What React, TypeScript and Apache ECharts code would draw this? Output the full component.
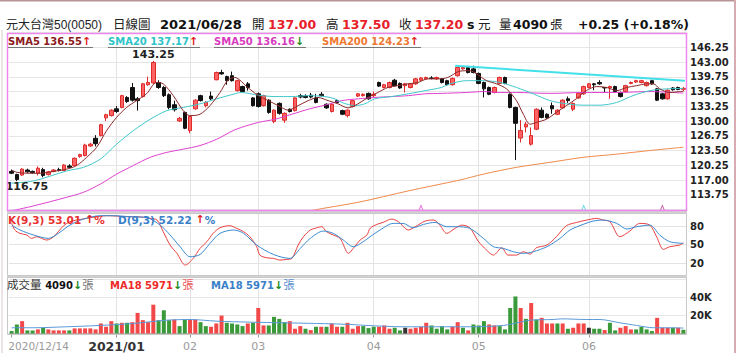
import React, { useEffect, useRef } from 'react';
import * as echarts from 'echarts';

// ---- trading calendar (x categories) ----
const DEC = [14, 15, 16, 17, 18, 21, 22, 23, 24, 25, 28, 29, 30, 31];
const JAN = [4, 5, 6, 7, 8, 11, 12, 13, 14, 15, 18, 19, 20, 21, 22, 25, 26, 27, 28, 29];
const FEB = [1, 2, 3, 4, 5, 17, 18, 19, 22, 23, 24, 25, 26];
const MAR = [2, 3, 4, 5, 8, 9, 10, 11, 12, 15, 16, 17, 18, 19, 22, 23, 24, 25, 26, 29, 30, 31];
const APR = [1, 6, 7, 8, 9, 12, 13, 14, 15, 16, 19, 20, 21, 22, 23, 26, 27, 28, 29, 30];
const MAY = [3, 4, 5, 6, 7, 10, 11, 12, 13, 14, 17, 18, 19, 20, 21, 24, 25, 26, 27, 28, 31];
const JUN = [1, 2, 3, 4, 7, 8, 9, 10, 11, 15, 16, 17, 18, 21, 22, 23, 24, 25, 28];

const tickIdx = [0, 20, 34, 47, 69, 89, 110];
const tickLabels = ['2020/12/14', '2021/01', '02', '03', '04', '05', '06'];

// ---- OHLC ----
const opens = [118.9,118.2,118.1,119.2,118.9,118.5,119.3,118.2,118.9,119.3,119.1,120.1,120.2,122.2,122.4,124.5,126.2,126.8,130.7,131.2,132.7,133.0,135.2,137.4,134.9,135.4,138.0,138.4,138.5,137.4,135.8,133.6,130.0,131.9,127.9,132.7,135.6,133.4,135.5,139.1,140.7,139.8,140.0,136.7,137.6,138.2,135.1,136.0,133.4,134.6,129.9,133.9,130.2,132.6,132.3,135.6,135.5,135.7,135.1,135.9,133.7,132.1,134.5,132.3,131.2,133.2,135.5,135.6,136.1,135.6,138.5,137.4,137.4,139.0,138.3,137.8,137.4,138.2,139.0,139.3,139.5,139.3,139.3,138.9,138.0,140.0,141.5,141.8,141.5,140.5,138.5,137.4,136.3,138.3,139.6,135.9,133.0,126.25,128.7,124.9,128.2,132.4,131.5,133.4,131.5,132.9,134.9,132.6,135.1,136.0,137.4,138.2,138.5,137.4,137.3,137.6,136.3,136.5,138.3,138.6,138.5,137.8,138.9,137.1,136.0,134.9,137.3,137.4,137.0];
const closes = [118.5,117.1,119.4,118.8,118.6,119.6,118.0,118.8,119.2,119.1,120.3,119.8,121.8,122.6,124.7,124.9,125.0,129.2,131.4,132.4,132.1,135.6,134.3,134.6,134.5,138.2,138.5,142.9,137.4,135.6,133.0,132.5,130.6,128.4,131.0,134.6,134.5,134.1,134.9,140.7,140.4,138.9,138.9,138.9,136.5,137.4,133.4,133.2,135.6,131.9,132.4,131.7,131.7,132.1,135.1,135.3,135.2,135.3,134.1,135.6,132.9,133.7,134.1,131.5,132.4,134.5,136.0,135.9,134.9,135.9,137.7,138.0,138.5,137.8,137.3,138.2,138.2,139.3,139.5,139.6,139.4,139.6,138.5,138.0,139.4,141.8,141.8,140.7,140.7,138.3,137.1,135.9,137.4,139.6,138.3,133.0,129.5,127.9,129.3,126.8,132.6,130.8,130.7,132.7,132.4,134.6,134.5,133.9,136.1,137.6,138.2,138.0,138.2,137.3,137.6,136.5,135.4,137.8,138.5,138.9,138.9,138.5,138.2,134.6,134.9,136.8,136.9,136.95,137.2];
const lows = [118.3,116.75,117.9,118.6,118.4,118.0,117.6,118.0,118.7,118.9,119.0,119.6,120.0,121.9,122.2,124.3,124.4,126.6,130.0,131.0,131.8,132.8,134.0,134.3,132.3,135.2,137.8,138.2,137.1,135.3,132.6,132.1,129.8,128.2,127.3,132.5,134.3,133.0,134.6,139.0,140.2,138.0,138.7,136.5,136.3,136.7,133.2,133.0,133.2,131.6,129.5,131.4,129.6,131.9,132.1,135.0,135.0,135.0,133.9,135.4,132.7,131.9,133.9,131.3,130.8,133.0,135.3,135.4,134.7,135.3,137.5,137.2,137.2,137.6,137.1,136.3,137.2,138.0,138.8,139.1,139.2,139.1,138.3,137.8,137.8,139.8,141.3,140.5,140.5,138.1,135.2,135.7,136.1,138.1,138.1,132.8,121.4,125.3,127.5,124.6,128.0,130.6,130.5,131.6,131.3,132.7,134.0,132.2,134.9,135.8,137.2,136.8,138.0,136.3,134.9,136.3,135.2,136.3,138.1,138.4,138.3,137.6,138.0,134.4,134.7,134.7,136.7,136.8,136.6];
const highs = [119.3,118.4,119.6,119.5,119.1,120.0,119.7,119.0,119.4,119.7,120.5,120.5,122.0,122.8,125.0,125.2,126.9,129.4,131.6,132.6,133.3,135.8,135.5,138.4,135.3,138.4,139.8,143.25,139.0,137.7,136.1,134.5,130.9,132.1,131.2,134.8,135.8,134.4,136.5,140.9,141.3,140.0,140.9,139.1,137.8,138.6,135.3,136.3,135.8,134.8,132.6,134.1,131.9,132.8,135.3,136.0,135.9,136.2,136.0,136.4,133.9,133.9,134.8,132.5,132.6,134.7,136.2,136.1,136.3,136.5,138.7,138.2,138.7,139.3,138.5,138.4,138.4,139.5,139.7,139.8,139.9,139.8,139.5,139.1,139.6,142.0,142.0,142.0,142.2,140.7,138.7,137.6,137.6,139.8,139.8,136.1,133.2,130.2,129.8,128.6,132.8,133.0,131.7,134.1,132.6,134.8,135.4,134.1,136.3,137.8,138.4,138.4,139.0,137.5,137.8,137.8,136.5,138.0,138.7,139.1,139.1,138.7,139.1,137.3,136.2,137.0,137.5,137.6,137.5];

// ---- volume (張) and bar colour r/g/k ----
const vols = [2700,9940,13560,3420,3420,4510,6320,4510,3420,3420,3420,3420,5600,5600,5600,5600,4510,11030,7400,13560,11030,11750,11750,12470,22610,14650,12470,31660,14650,25510,14650,15370,8130,15370,15370,15370,12470,8130,7400,11030,19710,11750,11030,9940,8130,11030,11750,28040,8850,8850,18270,16090,12470,13560,5230,8130,5230,3780,7400,7400,7400,11030,7400,7400,11750,5230,8130,8130,5960,7400,7400,8850,5230,6320,3420,6320,5230,6320,7400,11750,8850,5230,8130,4510,7400,12470,6320,3420,9940,8850,13560,9940,8850,8130,4510,28040,40710,28040,16090,33470,15370,17180,11030,11030,11030,11030,5230,6320,11030,11030,6320,5230,5230,3780,11750,3420,6320,8130,4510,4510,7400,4510,2700,17180,6320,6320,6320,6320,4090];
const volDir = 'ggrggrgrrrrgrrrrrrrrgrgrrrrrgggrggrrggrrrggggrgrrggggrrrgrgrgrrgrrrgggrrrggkrrrrggggrrgrgggrrggggrgrgrrrgrgrrrkggrggrrrggggrrrgr';

// ---- moving averages, sampled [bar index, value] ----
const sma5 = [[0,119.2],[1,118.7],[2.9,118.5],[5.4,118.5],[8,118.9],[10.5,119.4],[12.4,120.2],[14.3,122.0],[16.2,124.2],[18.1,127.9],[20,130.8],[21.9,133.0],[23.8,134.5],[25.7,136.0],[27.6,138.5],[28.9,138.2],[30.8,135.6],[32.7,132.3],[33.9,131.2],[35.9,131.5],[37.8,133.4],[39.7,136.3],[41.2,139.0],[42.5,139.6],[45,137.4],[47,135.6],[48.9,134.5],[50.8,133.4],[52.7,132.4],[54.6,133.4],[56.5,134.5],[58.4,135.2],[60.3,134.5],[62.2,133.8],[64.1,132.9],[66,133.8],[67.9,135.2],[69.8,136.3],[71.7,137.4],[73.6,137.8],[75.5,138.2],[77.4,138.5],[79.3,139.3],[81.2,139.3],[83.1,139.6],[85.4,141.0],[87.3,141.1],[88.6,140.4],[90.5,138.9],[92.4,138.2],[94.3,137.1],[96.2,134.5],[97.5,131.5],[98.8,129.3],[100,129.7],[101.9,130.4],[103.8,131.9],[105.7,133.4],[107.6,134.9],[109.5,136.7],[111.5,137.6],[113.4,137.4],[115.3,136.7],[117.2,137.4],[119.1,137.8],[121,138.2],[122.3,138.2],[123.5,137.1],[125.4,136.3],[127.3,136.5],[128,136.55]];
const sma20 = [[0,116.3],[4.2,116.8],[10.5,119.0],[13.7,119.8],[16.9,121.6],[20,124.9],[23.2,127.9],[26.4,130.4],[29.6,132.3],[32.7,133.0],[35.9,133.8],[39.1,134.9],[42.2,135.9],[43.8,136.3],[47,135.7],[50.2,135.4],[53.4,135.4],[56.5,135.6],[59.7,135.4],[61.6,134.9],[62.9,134.1],[65.4,133.4],[67.3,133.8],[69.2,134.9],[72.4,135.4],[75.6,136.0],[78.8,136.7],[81.9,137.4],[83.5,138.2],[86.7,138.9],[89.9,138.9],[93.1,138.5],[96.2,137.4],[99.4,136.0],[102.6,134.5],[105.7,133.8],[108.9,133.5],[112.1,133.5],[115.3,134.1],[118.4,135.6],[121.6,136.7],[124.8,137.1],[128,137.17]];
const sma50 = [[0,110.2],[4.2,111.3],[10.5,113.2],[13.7,114.3],[16.9,116.1],[20,118.3],[23.2,120.2],[26.4,122.0],[29.6,123.1],[32.7,123.8],[35.9,124.6],[39.1,126.0],[42.2,127.9],[43.8,128.6],[47,129.7],[50.2,130.4],[53.4,131.5],[56.5,132.6],[59.7,133.5],[62.9,134.5],[66.1,134.9],[69.2,135.2],[72.4,135.4],[75.6,135.6],[78.8,136.0],[81.9,136.1],[86.7,136.3],[89.9,136.5],[93.1,136.3],[96.2,136.3],[102.6,136.1],[108.9,136.3],[115.3,136.3],[121.6,136.5],[128,136.16]];
const sma200 = [[40,105.5],[56.9,110.2],[66.1,112.1],[75.6,114.6],[85.4,117.0],[89.9,118.3],[96.2,119.8],[102.6,120.9],[108.9,122.0],[115.3,122.7],[121.6,123.5],[128,124.23]];
const trendLine = [[84.5,142.2],[128.3,138.9]];
const signalMarks = [[78,111.0],[109,111.0],[124,111.0]];
const signalColors = ['#e04ad0', '#40d0d8', '#c03a90'];

// ---- KD(9,3) ----
const kLine = [[0,86],[0.6,74],[1.6,68.5],[2.9,65.8],[3.8,60.3],[4.8,63],[5.7,60.3],[6.7,57.6],[8,63],[8.9,71.2],[9.9,81],[11.1,87.6],[12.4,90.3],[14.3,93],[16.2,95.7],[18.1,97.4],[20,96.8],[21.9,95.7],[23.8,95.7],[26.4,93],[27.7,90.3],[28.9,71],[30.2,49.4],[31.5,35.8],[33.1,16.7],[34.6,27.6],[35.9,43.9],[37.2,54.9],[38.4,68.5],[39.7,77.7],[41.6,81],[42.9,76.7],[44.2,71.2],[45.4,63],[46.7,46.7],[47.3,33],[48.6,28.7],[49.9,27.6],[51.1,24.9],[52.4,25.9],[53.4,27.6],[54.6,49.4],[55.6,63],[56.9,74],[57.8,76.7],[59.1,79.4],[60,71.2],[61.3,65.8],[62.6,60.3],[64.2,35.8],[65.1,44],[66.4,57.6],[67.7,65.8],[68.3,76.7],[69.6,83.2],[70.8,86.5],[72.4,91.9],[73.7,87.6],[75.6,74],[76.9,79.4],[78.8,88.6],[80.4,90.3],[81.6,82],[82.9,68.5],[84.5,76.7],[85.8,82],[87.3,77.7],[88.9,55.9],[90.5,41.2],[91.8,33],[93.4,45],[94.6,33],[96.2,33],[97.5,38.5],[98.8,34.7],[100,45],[102,49.4],[103.8,63],[105.7,81],[107.7,86.5],[109.6,90.3],[111.5,93],[112.7,90.3],[114,87.6],[115.9,63],[117.8,72.3],[119.7,84.8],[121.6,82],[122.9,63],[124.2,42.3],[125.4,46.7],[127.3,49.4],[128,53.01]];
const dLine = [[0,82],[1.6,74],[4.2,65.8],[7,60.3],[8.9,68.5],[11.1,82],[13.7,91.9],[16.9,97.4],[19.4,97.4],[22.6,95.7],[25.8,94],[28.3,82],[30.2,65.8],[32.1,46.7],[34,30.3],[35.9,34],[37.8,52.1],[39.7,68.5],[42.3,74],[44.2,68.5],[46.7,49.4],[49.9,34],[53,27.6],[55,44],[56.9,60.3],[59.4,72.3],[61.3,68.5],[63.2,57.6],[65.1,46.7],[67,54.9],[68.3,63],[70.2,74],[72.7,84.8],[74.6,84.8],[76.5,77.7],[78.5,83.2],[80.7,86.5],[82.9,79.4],[84.8,79.4],[87.3,76.7],[89.9,60.3],[91.8,46.7],[93.7,44],[95.6,38.5],[97.5,35.8],[99.4,38.5],[102,46.7],[104.5,60.3],[106.4,74],[108.9,83.2],[110.8,88.6],[112.7,90.3],[115.3,84.8],[117.2,75.6],[119.1,79.4],[121.6,82],[123.5,65.8],[125.4,54.9],[128,52.22]];

// ---- volume MA18 ----
const volMa = [[0,6320],[4.2,6320],[10.5,7400],[16.9,8850],[23.2,11030],[29.6,14650],[34,15370],[39.1,13560],[45.4,12470],[51.8,11750],[58.1,11030],[64.5,9940],[67.7,8850],[74.6,7400],[81,7400],[87.3,7400],[93.7,8850],[96.9,12470],[98.8,14650],[103.2,15370],[104.8,16090],[109.6,15370],[112.1,15370],[115.9,11750],[119.1,8850],[122.3,6320],[125.4,6320],[128,5971]];

const FONT = "'DejaVu Sans', 'Noto Sans CJK TC', sans-serif";
const LIB = "'Liberation Sans', 'Noto Sans CJK TC', sans-serif";
const RED = '#e8202a';
const UP = '#e02020';
const GREEN = '#1a8a1a';

function buildCats(): string[] {
  const out: string[] = [];
  const add = (y: number, m: number, ds: number[]) => ds.forEach((d) => out.push(`${y}/${String(m).padStart(2, '0')}/${String(d).padStart(2, '0')}`));
  add(2020, 12, DEC); add(2021, 1, JAN); add(2021, 2, FEB); add(2021, 3, MAR);
  add(2021, 4, APR); add(2021, 5, MAY); add(2021, 6, JUN);
  return out;
}

function txt(x: number, y: number, text: string, fill: string, size: number, weight = 'normal', family = FONT) {
  return { type: 'text', x, y, z: 120, silent: true, style: { text, fill, font: `${weight} ${size}px ${family}`, align: 'left', verticalAlign: 'middle' } };
}
function rt(x: number, y: number, text: string, rich: any) {
  return { type: 'text', x, y, z: 120, silent: true, style: { text, rich, align: 'left', verticalAlign: 'middle', font: `normal 10px ${FONT}` } };
}
function hline(x1: number, x2: number, y: number, stroke: string, w = 1) {
  return { type: 'line', z: 110, silent: true, shape: { x1, y1: y, x2, y2: y }, style: { stroke, lineWidth: w } };
}

export default function App() {
  const ref = useRef<HTMLDivElement>(null);
  useEffect(() => {
    const cats = buildCats();
    const n = cats.length;
    const last = n - 1;
    const chart = echarts.init(ref.current!, null, { renderer: 'svg' });
    const lastV = (a: number[][]) => a[a.length - 1][1];
    const chg = closes[last] - closes[last - 1];
    const pct = (chg / closes[last - 1]) * 100;
    const sgn = (v: number) => (v >= 0 ? '+' : '') + v.toFixed(2);
    let hiI = 0, loI = 0;
    highs.forEach((h, i) => { if (h > highs[hiI]) hiI = i; });
    lows.forEach((l, i) => { if (l < lows[loI]) loI = i; });

    const vGrid = tickIdx.slice(1).map((i) => ({ xAxis: i }));
    const gridLineStyle = { color: '#e3e3e3', width: 1, type: 'solid' as const };
    const isTick = (i: number) => tickIdx.indexOf(i) >= 0;
    const volColor: Record<string, string> = { r: '#f24848', g: '#3a9a3a', k: '#333333' };

    // zrender rich styles use "fill"
    const b = (c: string, extra: any = {}) => ({ fill: c, fontFamily: FONT, fontSize: 10, fontWeight: 'bold', ...extra });
    const nrm = (c: string, size = 11.5) => ({ fill: c, fontFamily: FONT, fontSize: size, fontWeight: 'normal' });

    const graphic: any[] = [
      // frames
      hline(0, 736, 0.75, '#b89494', 1.5),
      { type: 'line', z: 110, silent: true, shape: { x1: 735, y1: 0, x2: 735, y2: 353 }, style: { stroke: '#d8aab2', lineWidth: 2 } },
      { type: 'line', z: 110, silent: true, shape: { x1: 2, y1: 30, x2: 2, y2: 353 }, style: { stroke: '#d6caca', lineWidth: 1 } },
      { type: 'rect', z: 110, silent: true, shape: { x: 7.5, y: 33.5, width: 679, height: 177 }, style: { fill: 'none', stroke: '#ee86ee', lineWidth: 1.5 } },
      { type: 'rect', z: 109, silent: true, shape: { x: 7, y: 211, width: 680, height: 2.5 }, style: { fill: '#d2d2d2' } },
      { type: 'rect', z: 110, silent: true, shape: { x: 7.5, y: 213.5, width: 679, height: 62 }, style: { fill: 'none', stroke: '#c8c8c8', lineWidth: 1 } },
      { type: 'rect', z: 109, silent: true, shape: { x: 7, y: 275.5, width: 680, height: 2.5 }, style: { fill: '#d2d2d2' } },
      { type: 'rect', z: 110, silent: true, shape: { x: 7.5, y: 277.5, width: 679, height: 57 }, style: { fill: 'none', stroke: '#c8c8c8', lineWidth: 1 } },
      // header
      txt(6, 24.5, '元大台灣50(0050)', '#222', 12, 'normal', LIB),
      txt(113, 24.5, '日線圖', '#222', 12.5),
      txt(160, 24.5, '2021/06/28', '#111', 13, 'bold'),
      txt(252, 24.5, '開', '#222', 12.5),
      txt(268, 24.5, opens[last].toFixed(2), RED, 12.5, 'bold'),
      txt(326, 24.5, '高', '#222', 12.5),
      txt(342, 24.5, highs[last].toFixed(2), RED, 12.5, 'bold'),
      txt(399, 24.5, '收', '#222', 12.5),
      txt(415, 24.5, closes[last].toFixed(2), RED, 12.5, 'bold'),
      txt(467, 24.5, 's', '#111', 12.5, 'bold'),
      txt(478, 24.5, '元', '#222', 12.5),
      txt(499, 24.5, '量', '#222', 12.5),
      txt(513, 24.5, String(vols[last]), '#111', 12.5, 'bold'),
      txt(550, 24.5, '張', '#222', 12.5),
      txt(578, 24.5, `${sgn(chg)} (${sgn(pct)}%)`, '#111', 12.5, 'bold'),
      // main legend
      rt(8, 41.5, `{a|SMA5 ${lastV(sma5).toFixed(2)}}{u|↑}`, { a: b('#8b1a1a'), u: b(UP, { fontSize: 11 }) }),
      rt(108, 41.5, `{a|SMA20 ${lastV(sma20).toFixed(2)}}{u|↑}`, { a: b('#2ec4c8'), u: b(UP, { fontSize: 11 }) }),
      rt(214, 41.5, `{a|SMA50 ${lastV(sma50).toFixed(2)}}{u|↓}`, { a: b('#d83cc0'), u: b(GREEN, { fontSize: 11 }) }),
      rt(322, 41.5, `{a|SMA200 ${lastV(sma200).toFixed(2)}}{u|↑}`, { a: b('#f07830'), u: b(UP, { fontSize: 11 }) }),
      hline(8, 93, 47.5, '#777'),
      hline(108, 200, 47.5, '#777'),
      hline(214, 306, 47.5, '#777'),
      hline(322, 421, 47.5, '#777'),
      // KD legend
      rt(8, 219.5, `{a|K(9,3) ${lastV(kLine).toFixed(2)}}{u| ↑}{a|%}`, { a: b('#e83030', { fontSize: 10.5 }), u: b(UP, { fontSize: 11 }) }),
      rt(118, 219.5, `{a|D(9,3) ${lastV(dLine).toFixed(2)}}{u| ↑}{a|%}`, { a: b('#3a80c8', { fontSize: 10.5 }), u: b(UP, { fontSize: 11 }) }),
      // volume legend
      rt(7, 285, `{n|成交量 }{a|${vols[last]}}{d|↓}{z|張}`, { n: nrm('#333'), a: b('#111'), d: b(GREEN, { fontSize: 11 }), z: nrm('#777') }),
      rt(110, 285, `{a|MA18 ${lastV(volMa)}}{d|↓}{z|張}`, { a: b('#ee2a2a'), d: b(GREEN, { fontSize: 11 }), z: nrm('#ee5a5a') }),
      rt(211, 285, `{a|MA18 ${lastV(volMa)}}{d|↓}{z|張}`, { a: b('#3a80c8'), d: b(GREEN, { fontSize: 11 }), z: nrm('#5a90d0') }),
    ];

    const valX = (g: number) => ({ type: 'value', gridIndex: g, min: -0.5, max: n - 0.5, show: false });
    const line = (data: number[][], xi: number, yi: number, color: string, width = 1, extra: any = {}) => ({
      type: 'line', xAxisIndex: xi, yAxisIndex: yi, data, showSymbol: false, symbol: 'none', smooth: 0.3,
      lineStyle: { color, width }, silent: true, ...extra,
    });

    const option: any = {
      animation: false,
      backgroundColor: '#ffffff',
      textStyle: { fontFamily: FONT },
      graphic,
      grid: [
        { left: 9, width: 677, top: 32.6, height: 176.9 },
        { left: 9, width: 677, top: 214.1, height: 61.2 },
        { left: 9, width: 677, top: 278.9, height: 55.2 },
      ],
      xAxis: [
        { type: 'category', gridIndex: 0, data: cats, show: false },
        valX(0),
        valX(1),
        {
          type: 'category', gridIndex: 2, data: cats,
          axisLine: { show: true, lineStyle: { color: '#b8b8b8' } },
          axisTick: { show: true, interval: (i: number) => isTick(i), alignWithLabel: true, length: 4, lineStyle: { color: '#999' } },
          splitLine: { show: false },
          axisLabel: {
            interval: (i: number) => isTick(i),
            margin: 7,
            formatter: (_v: string, i: number) => {
              const k = tickIdx.indexOf(i);
              if (k === 0) return `{a|${tickLabels[0]}}`;
              if (k === 1) return `{b|${tickLabels[1]}}`;
              return `{c|${tickLabels[k]}}`;
            },
            rich: {
              a: { color: '#9a9a9a', fontSize: 10.5, fontFamily: FONT, padding: [0, 0, 0, 54] },
              b: { color: '#333', fontSize: 12.5, fontWeight: 'bold', fontFamily: FONT },
              c: { color: '#9a9a9a', fontSize: 11, fontFamily: FONT },
            },
          },
        },
        valX(2),
      ],
      yAxis: [
        {
          type: 'value', gridIndex: 0, position: 'right', min: 110.5, max: 149.5, interval: 3.25,
          axisLine: { show: false }, axisTick: { show: false },
          splitLine: { show: true, lineStyle: { color: '#e6e6e6' } },
          axisLabel: { showMinLabel: false, showMaxLabel: false, margin: 4, color: '#222', fontWeight: 'bold', fontSize: 10, fontFamily: FONT, formatter: (v: number) => v.toFixed(2) },
        },
        {
          type: 'value', gridIndex: 1, position: 'right', min: 0, max: 100, interval: 10,
          axisLine: { show: false }, axisTick: { show: false }, splitLine: { show: false },
          axisLabel: { margin: 4, color: '#222', fontWeight: 'bold', fontSize: 10, fontFamily: FONT, formatter: (v: number) => ([20, 50, 80].indexOf(v) >= 0 ? String(v) : '') },
        },
        {
          type: 'value', gridIndex: 2, position: 'right', min: 0, max: 60000, interval: 20000,
          axisLine: { show: false }, axisTick: { show: false },
          splitLine: { show: true, lineStyle: { color: '#e6e6e6' } },
          axisLabel: { showMinLabel: false, showMaxLabel: false, margin: 4, color: '#222', fontWeight: 'bold', fontSize: 10, fontFamily: FONT, formatter: (v: number) => `${v / 1000}K` },
        },
      ],
      series: [
        line(sma200, 1, 0, '#f08a4a', 1, {
          markLine: { z: 1, silent: true, symbol: ['none', 'none'], label: { show: false }, lineStyle: gridLineStyle, data: vGrid },
        }),
        {
          type: 'candlestick', xAxisIndex: 0, yAxisIndex: 0, barWidth: 4, silent: true,
          data: opens.map((o, i) => [o, closes[i], lows[i], highs[i]]),
          itemStyle: { color: '#fb6464', color0: '#111111', borderColor: '#e02a2a', borderColor0: '#111111', borderWidth: 1 },
          markPoint: {
            silent: true, symbol: 'circle', symbolSize: 0,
            data: [
              { coord: [cats[hiI], highs[hiI]], value: highs[hiI], label: { show: true, position: 'top', distance: 1, formatter: highs[hiI].toFixed(2), color: '#222', fontWeight: 'bold', fontSize: 11, fontFamily: FONT } },
              { coord: [cats[loI], lows[loI]], value: lows[loI], label: { show: true, position: 'bottom', distance: 0, offset: [10, 0], formatter: lows[loI].toFixed(2), color: '#222', fontWeight: 'bold', fontSize: 11, fontFamily: FONT } },
            ],
          },
        },
        line(sma50, 1, 0, '#e040d0'),
        line(sma20, 1, 0, '#40c8cc'),
        line(sma5, 1, 0, '#8b2a2a'),
        line(trendLine, 1, 0, '#44e0ea', 2, { smooth: false }),
        {
          type: 'scatter', xAxisIndex: 1, yAxisIndex: 0, data: signalMarks, silent: true,
          symbol: 'path://M0,10L5,0L10,10L8,10L5,4L2,10Z', symbolSize: [5, 6],
          itemStyle: { color: (p: any) => signalColors[p.dataIndex] },
        },
        line(kLine, 2, 1, '#e84040', 1, {
          markLine: { z: 1, silent: true, symbol: ['none', 'none'], label: { show: false }, lineStyle: gridLineStyle, data: [...vGrid, { yAxis: 20 }, { yAxis: 50 }, { yAxis: 80 }] },
        }),
        line(dLine, 2, 1, '#3a8ad0'),
        {
          type: 'bar', xAxisIndex: 3, yAxisIndex: 2, barWidth: 4, silent: true,
          data: vols.map((v, i) => ({ value: v, itemStyle: { color: volColor[volDir[i]] || '#3a9a3a' } })),
          markLine: { z: 1, silent: true, symbol: ['none', 'none'], label: { show: false }, lineStyle: gridLineStyle, data: vGrid },
        },
        line(volMa, 4, 2, '#5a9ad8'),
      ],
    };
    chart.setOption(option);
    return () => chart.dispose();
  }, []);
  return <div ref={ref} style={{ position: 'fixed', left: 0, top: 0, width: 740, height: 353, background: '#fff' }} />;
}
